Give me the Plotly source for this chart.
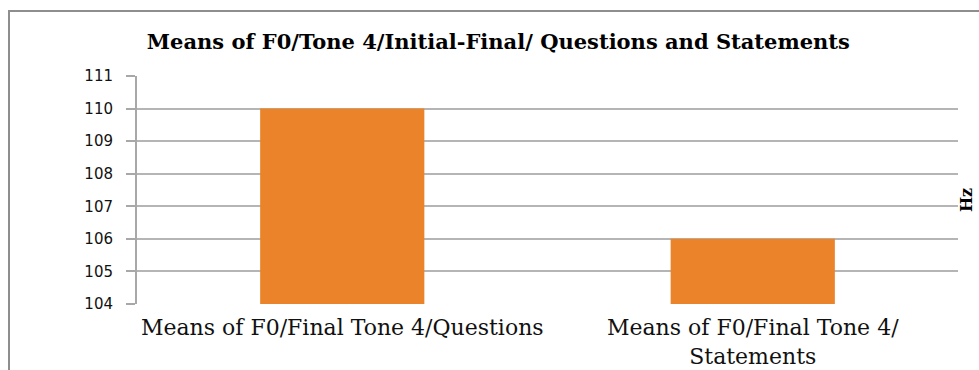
import plotly.graph_objects as go

categories = ["Means of F0/Final Tone 4/Questions", "Means of F0/Final Tone 4/<br>Statements"]
values = [110, 106]
tick_vals = [104, 105, 106, 107, 108, 109, 110, 111]
tick_text = [str(v) for v in tick_vals]

fig = go.Figure()
fig.add_trace(go.Bar(
    x=categories, y=values,
    marker=dict(color="#EA8329", line=dict(width=0)),
    width=0.4,
))

W, H = 979, 370
L, R, T, B = 137, 21, 76, 66
pw, ph = W - L - R, H - T - B

def px_x(x):
    return (x - L) / pw

def px_y(y):
    return (H - B - y) / ph

fig.update_layout(
    width=W, height=H,
    margin=dict(l=L, r=R, t=T, b=B, autoexpand=False),
    paper_bgcolor="white", plot_bgcolor="white",
    showlegend=False,
    title=dict(
        text="<b>Means of F0/Tone 4/Initial-Final/ Questions and Statements</b>",
        font=dict(family="DejaVu Serif", size=21, color="black"),
        x=0.509, xanchor="center", y=1 - 42 / H, yanchor="middle",
    ),
    xaxis=dict(
        showgrid=False, showline=False, ticks="",
        tickfont=dict(family="DejaVu Serif", size=22, color="#111"),
        ticklabelstandoff=8, automargin=False,
    ),
    yaxis=dict(
        range=[104, 111], tickvals=tick_vals, ticktext=tick_text,
        showgrid=True, gridcolor="#B5B5B5", gridwidth=2,
        showline=True, linecolor="#A8A8A8", linewidth=2,
        ticks="outside", ticklen=9, tickcolor="#A8A8A8", tickwidth=2,
        zeroline=False, automargin=False,
        tickfont=dict(family="DejaVu Sans", size=15, color="#111"),
        ticklabelstandoff=10,
    ),
    shapes=[dict(
        type="rect", xref="paper", yref="paper",
        x0=px_x(9), x1=px_x(1100), y0=px_y(500), y1=px_y(11),
        line=dict(color="#8E8E8E", width=2), fillcolor="rgba(0,0,0,0)",
        layer="below",
    )],
    annotations=[dict(
        text="<b>Hz</b>", xref="paper", yref="paper",
        x=px_x(966), y=px_y(200), xanchor="center", yanchor="middle",
        showarrow=False, textangle=-90,
        font=dict(family="DejaVu Serif", size=16, color="black"),
    )],
)

fig.write_html("out.html")
